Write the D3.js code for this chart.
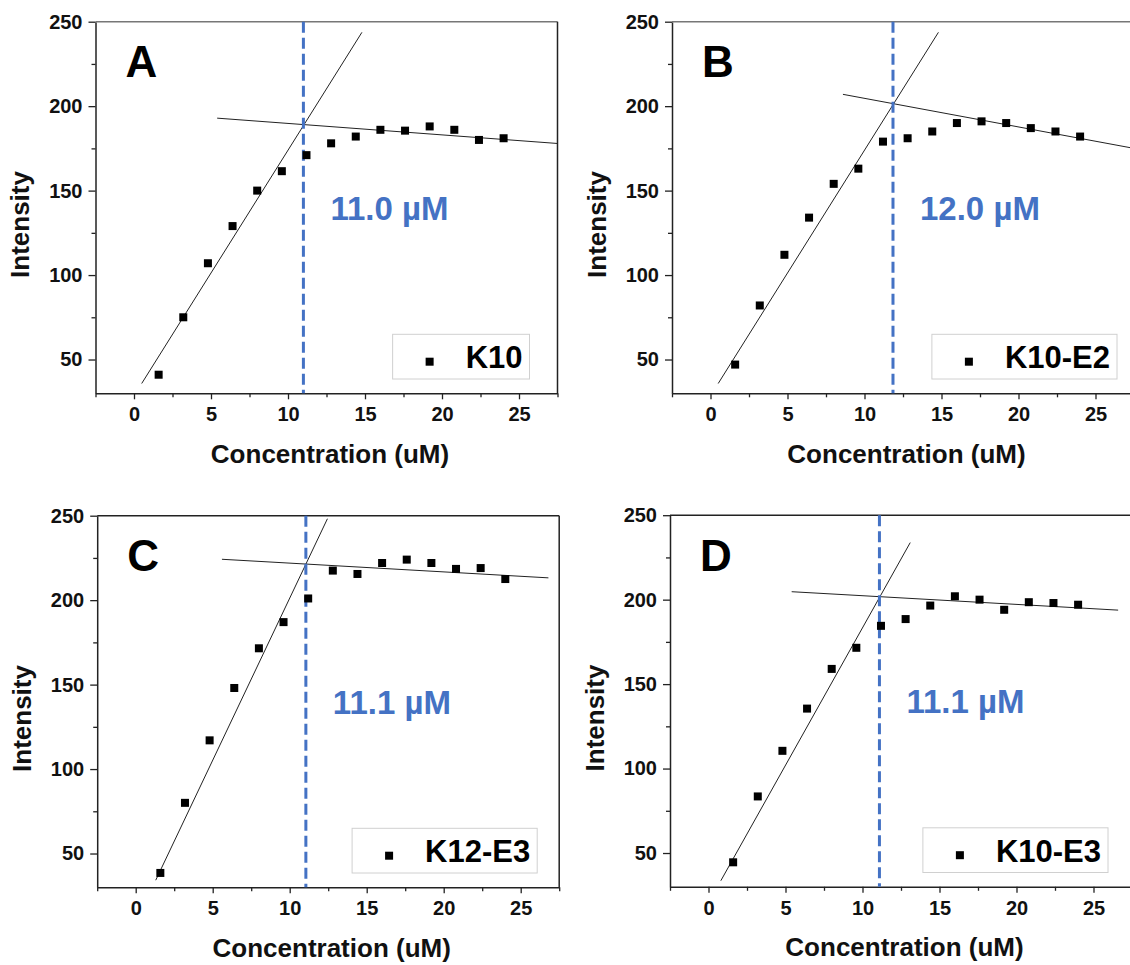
<!DOCTYPE html>
<html>
<head>
<meta charset="utf-8">
<script src="https://cdn.jsdelivr.net/npm/d3@7"></script>
<style>
body { margin: 0; background: #fff; }
text { font-family: "Liberation Sans", Arial, sans-serif; font-weight: bold; }
</style>
</head>
<body>
<div id="chart-area"></div>
<script>
// concentration (uM) used in every panel
var concentration = [1.6, 3.2, 4.8, 6.4, 8.0, 9.6, 11.2, 12.8, 14.4, 16.0, 17.6, 19.2, 20.8, 22.4, 24.0];

// intensities
var intensityA = [41, 75, 107, 129, 150, 161.5, 171, 178, 182, 186, 185.5, 188, 186, 180, 181];
var intensityB = [47, 82, 112, 134, 154, 163, 179, 181, 185, 190, 191, 190, 187, 185, 182];
var intensityC = [38.5, 80, 117, 148, 171.5, 187, 201, 217.5, 215.5, 222, 224, 222, 218.5, 219, 212.5];
var intensityD = [44.5, 83.5, 110.5, 135.5, 159, 171.5, 184.5, 188.5, 196.5, 202, 200, 194, 198.5, 198, 197];

var panelLetters = ["A", "B", "C", "D"];
var sampleNames = ["K10", "K10-E2", "K12-E3", "K10-E3"];
var cmcLabels = [11.0, 12.0, 11.1, 11.1];
var cmcLineX = [11.0, 11.85, 11.05, 11.1];

// fit lines as [x0, y0, x1, y1] in data units
var risingFits = [[0.5, 35.8, 14.8, 243.7], [0.5, 35.8, 14.8, 243.7], [1.3, 34.2, 12.45, 248.2], [0.8, 33.6, 13.1, 233.8]];
var flatFits = [[5.4, 192.9, 27.5, 177.9], [8.6, 207, 27.5, 175], [5.6, 224.2, 26.8, 213.2], [5.4, 204.7, 26.6, 193.8]];

var xTicks = [0, 5, 10, 15, 20, 25];
var xMinor = [-2.5, 2.5, 7.5, 12.5, 17.5, 22.5, 27.5];
var yTicks = [50, 100, 150, 200, 250];
var yMinor = [75, 125, 175, 225];

var intensities = [intensityA, intensityB, intensityC, intensityD];

// panel placement on the page
var panelPos = [
    {left: 95.5, top: 21.7, topColor: "#777", legendRight: 28},
    {left: 672, top: 21.7, topColor: "#777", legendRight: 17},
    {left: 97.2, top: 515.7, topColor: "#222", legendRight: 22},
    {left: 670, top: 515.2, topColor: "#222", legendRight: 24}
];
var width = 462, height = 371.6;
var blue = "#4472C4";

var svg = d3.select("#chart-area")
    .append("svg")
        .attr("width", 1130)
        .attr("height", 965);

var x = d3.scaleLinear().domain([-2.5, 27.5]).range([0, width]);
var y = d3.scaleLinear().domain([30, 250]).range([height, 0]);

panelPos.forEach(function(pos, i){
    var g = svg.append("g")
        .attr("transform", "translate(" + pos.left + ", " + pos.top + ")");

    // minor ticks
    g.append("g")
        .attr("transform", "translate(0, " + height + ")")
        .call(d3.axisBottom(x).tickValues(xMinor).tickSize(4).tickFormat(""))
        .call(function(a){ a.select(".domain").remove(); });
    g.append("g")
        .call(d3.axisLeft(y).tickValues(yMinor).tickSize(4).tickFormat(""))
        .call(function(a){ a.select(".domain").remove(); });

    // main axes
    g.append("g")
        .attr("class", "x axis")
        .attr("transform", "translate(0, " + height + ")")
        .call(d3.axisBottom(x).tickValues(xTicks).tickSize(6).tickSizeOuter(0).tickPadding(8));
    g.append("g")
        .attr("class", "y axis")
        .call(d3.axisLeft(y).tickValues(yTicks).tickSize(7).tickSizeOuter(0).tickPadding(6));

    g.selectAll(".axis text")
        .attr("font-size", "20px")
        .attr("font-family", "Liberation Sans, Arial, sans-serif")
        .attr("font-weight", "bold")
        .attr("fill", "#111");
    g.selectAll(".tick line").attr("stroke", "#222").attr("stroke-width", 1.3);
    g.selectAll(".domain").attr("stroke", "#222").attr("stroke-width", 1.5);

    // frame top / right
    g.append("line")
        .attr("x1", 0).attr("x2", width).attr("y1", 0).attr("y2", 0)
        .attr("stroke", pos.topColor).attr("stroke-width", 1.5);
    g.append("line")
        .attr("x1", width).attr("x2", width).attr("y1", 0).attr("y2", height)
        .attr("stroke", "#222").attr("stroke-width", 1.5);

    // axis titles
    g.append("text")
        .attr("x", width / 2 + 3.5)
        .attr("y", height + 69.7)
        .attr("font-size", "26px")
        .attr("text-anchor", "middle")
        .attr("fill", "#111")
        .text("Concentration (uM)");
    g.append("text")
        .attr("transform", "translate(-66.5, " + (height / 2 + 17) + ") rotate(-90)")
        .attr("font-size", "26px")
        .attr("text-anchor", "middle")
        .attr("fill", "#111")
        .text("Intensity");

    // fit lines
    [risingFits[i], flatFits[i]].forEach(function(f){
        g.append("line")
            .attr("x1", x(f[0])).attr("y1", y(f[1]))
            .attr("x2", x(f[2])).attr("y2", y(f[3]))
            .attr("stroke", "#222")
            .attr("stroke-width", 1);
    });

    // dashed cmc line
    g.append("line")
        .attr("x1", x(cmcLineX[i])).attr("x2", x(cmcLineX[i]))
        .attr("y1", 0).attr("y2", height)
        .attr("stroke", blue)
        .attr("stroke-width", 3)
        .attr("stroke-dasharray", "11,5");

    // data points
    var pts = concentration.map(function(c, k){ return {c: c, v: intensities[i][k]}; });
    g.selectAll("rect.pt").data(pts)
        .enter().append("rect")
        .attr("class", "pt")
        .attr("x", function(d){ return x(d.c) - 4; })
        .attr("y", function(d){ return y(d.v) - 4; })
        .attr("width", 8)
        .attr("height", 8)
        .attr("fill", "#000");

    // panel letter
    g.append("text")
        .attr("x", 30)
        .attr("y", 55.5)
        .attr("font-family", "Lato, sans-serif")
        .attr("font-size", "44px")
        .attr("font-weight", "900")
        .attr("fill", "#000")
        .text(panelLetters[i]);

    // cmc annotation
    g.append("text")
        .attr("x", x(cmcLineX[i]) + 27)
        .attr("y", 198)
        .attr("font-family", "Lato, sans-serif")
        .attr("font-size", "33px")
        .attr("font-weight", "bold")
        .attr("fill", blue)
        .text(cmcLabels[i].toFixed(1) + " \u00B5M");

    // legend
    var legend = g.append("g");
    var box = legend.append("rect");
    var label = legend.append("text")
        .attr("font-size", "31px")
        .attr("fill", "#000")
        .text(sampleNames[i]);
    var tw = label.node().getComputedTextLength();
    var boxW = 73 + tw + 7;
    var boxRight = width - pos.legendRight;
    var boxLeft = boxRight - boxW;
    var boxTop = height - 59;
    box.attr("x", boxLeft).attr("y", boxTop)
        .attr("width", boxW).attr("height", 44.7)
        .attr("fill", "#fff")
        .attr("stroke", "#d0d0d0")
        .attr("stroke-width", 1);
    label.attr("x", boxLeft + 73).attr("y", boxTop + 34);
    legend.append("rect")
        .attr("x", boxLeft + 37 - 4)
        .attr("y", boxTop + 27.4 - 4)
        .attr("width", 8).attr("height", 8)
        .attr("fill", "#000");
});
</script>
</body>
</html>
